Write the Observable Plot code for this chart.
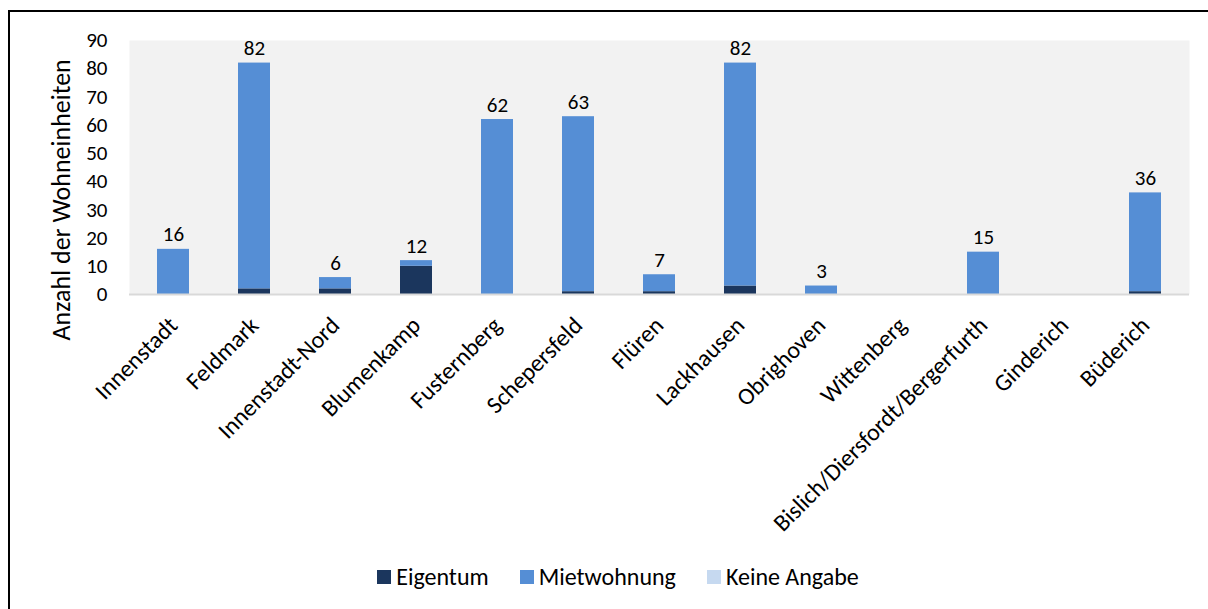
<!DOCTYPE html>
<html>
<head>
<meta charset="utf-8">
<script src="https://cdn.jsdelivr.net/npm/d3@7"></script>
<script src="https://cdn.jsdelivr.net/npm/@observablehq/plot@0.6"></script>
<style>
  html, body { margin: 0; padding: 0; background: #fff; }
  body { width: 1208px; height: 609px; overflow: hidden; position: relative; font-family: Carlito, Lato, sans-serif; }
  #frame { position: absolute; left: 8px; top: 10px; width: 1220px; height: 620px; border-left: 2px solid #000; border-top: 2px solid #000; }
  #chart { position: absolute; left: 0; top: 0; }
  #legend { position: absolute; left: 0; width: 1208px; top: 561px; display: flex; justify-content: center; gap: 31px; font-size: 24px; line-height: 32px; color: #000; padding-left: 28px; box-sizing: border-box; }
  #legend .item { display: flex; align-items: center; gap: 5px; }
  #legend .sw { width: 14px; height: 14px; display: inline-block; }
</style>
</head>
<body>
<div id="frame"></div>
<div id="chart"></div>
<div id="legend"></div>
<script>
// Wohneinheiten je Stadtteil, nach Art der Nutzung
const stadtteile = ["Innenstadt", "Feldmark", "Innenstadt-Nord", "Blumenkamp", "Fusternberg", "Schepersfeld", "Flüren", "Lackhausen", "Obrighoven", "Wittenberg", "Bislich/Diersfordt/Bergerfurth", "Ginderich", "Büderich"];
const eigentum    = [0, 2, 2, 10, 0, 1, 1, 3, 0, 0, 0, 0, 1];
const mietwohnung = [16, 80, 4, 2, 62, 62, 6, 79, 3, 0, 15, 0, 35];
const keineAngabe = [0, 0, 0, 0, 0, 0, 0, 0, 0, 0, 0, 0, 0];
const serien = ["Eigentum", "Mietwohnung", "Keine Angabe"];
const farben = ["#1b365d", "#558ed5", "#c6d9f0"];
const yTicks = [0, 10, 20, 30, 40, 50, 60, 70, 80, 90];

const rows = [];
stadtteile.forEach((s, i) => {
  rows.push({stadtteil: s, serie: serien[0], wert: eigentum[i]});
  rows.push({stadtteil: s, serie: serien[1], wert: mietwohnung[i]});
  rows.push({stadtteil: s, serie: serien[2], wert: keineAngabe[i]});
});
// Summe je Stadtteil als Beschriftung über dem Balken
const summen = stadtteile
  .map((s, i) => ({stadtteil: s, summe: eigentum[i] + mietwohnung[i] + keineAngabe[i]}))
  .filter(d => d.summe > 0);

const font = "Carlito, Lato, sans-serif";

const chart = Plot.plot({
  width: 1208,
  height: 550,
  marginLeft: 129,
  marginRight: 19,
  marginTop: 40,
  marginBottom: 256,
  style: {fontFamily: font, fontSize: "21px", color: "#000", background: "transparent"},
  x: {domain: stadtteile, paddingInner: 0.6, paddingOuter: 0.3, label: null},
  y: {domain: [0, 90], label: null},
  color: {domain: serien, range: farben},
  marks: [
    Plot.frame({fill: "#f2f2f2", stroke: null}),
    Plot.axisY({ticks: yTicks, tickSize: 0, tickPadding: 22, label: null, fontSize: 21}),
    Plot.axisX({tickSize: 0, tickPadding: 27, tickRotate: -45, label: null, fontSize: 24}),
    Plot.barY(rows, Plot.stackY({x: "stadtteil", y: "wert", fill: "serie", order: serien})),
    Plot.ruleY([0], {stroke: "#d9d9d9", strokeWidth: 2}),
    Plot.text(summen, {x: "stadtteil", y: "summe", text: d => String(d.summe), dy: -8, lineAnchor: "bottom", fontSize: 21, fill: "#000"}),
    Plot.text(["Anzahl der Wohneinheiten"], {frameAnchor: "bottom-left", rotate: -90, textAnchor: "start", dx: -60, dy: 46, fontSize: 26, fill: "#000"})
  ]
});
document.getElementById("chart").appendChild(chart);

const legend = document.getElementById("legend");
serien.forEach((s, i) => {
  const item = document.createElement("div");
  item.className = "item";
  const sw = document.createElement("span");
  sw.className = "sw";
  sw.style.background = farben[i];
  const t = document.createElement("span");
  t.textContent = s;
  item.append(sw, t);
  legend.appendChild(item);
});
</script>
</body>
</html>
